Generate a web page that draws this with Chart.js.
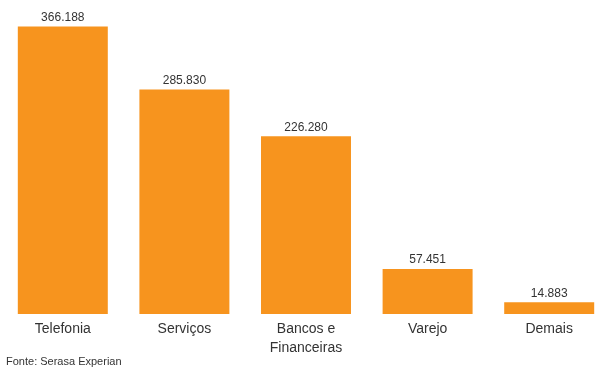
<!DOCTYPE html>
<html>
<head>
<meta charset="utf-8">
<script src="https://cdn.jsdelivr.net/npm/chart.js@4"></script>
<style>
html,body{margin:0;padding:0;background:#fff;}
#wrap{width:612px;height:371px;position:relative;}
</style>
</head>
<body>
<div id="wrap"><canvas id="c" width="612" height="371"></canvas></div>
<script>
const categories = ["Telefonia", "Serviços", ["Bancos e", "Financeiras"], "Varejo", "Demais"];
const values = [366188, 285830, 226280, 57451, 14883];
const sourceText = "Fonte: Serasa Experian";

function fmt(v){
  return String(Math.round(v)).replace(/\B(?=(\d{3})+(?!\d))/g, ".");
}

const valueLabels = {
  id: 'valueLabels',
  afterDatasetsDraw(chart){
    const ctx = chart.ctx;
    const meta = chart.getDatasetMeta(0);
    ctx.save();
    ctx.font = '12px "Liberation Sans", Arial, sans-serif';
    ctx.fillStyle = '#333333';
    ctx.textAlign = 'center';
    ctx.textBaseline = 'bottom';
    meta.data.forEach((bar, i) => {
      ctx.fillText(fmt(values[i]), bar.x, bar.y - 3);
    });
    ctx.restore();
  }
};

const sourcePlugin = {
  id: 'sourcePlugin',
  afterDraw(chart){
    const ctx = chart.ctx;
    ctx.save();
    ctx.font = '11px "Liberation Sans", Arial, sans-serif';
    ctx.fillStyle = '#333333';
    ctx.textAlign = 'left';
    ctx.textBaseline = 'middle';
    ctx.fillText(sourceText, 6, 362);
    ctx.restore();
  }
};

new Chart(document.getElementById('c'), {
  type: 'bar',
  data: {
    labels: categories,
    datasets: [{
      data: values,
      backgroundColor: '#F7941E',
      borderWidth: 0,
      barPercentage: 0.74,
      categoryPercentage: 1.0
    }]
  },
  options: {
    responsive: false,
    animation: false,
    events: [],
    layout: { padding: { left: 2, right: 2, top: 0, bottom: 0 } },
    plugins: { legend: { display: false }, tooltip: { enabled: false }, title: { display: false } },
    scales: {
      y: { display: false, min: 0, max: 400000 },
      x: {
        grid: { display: false, drawTicks: false },
        border: { display: false },
        ticks: {
          padding: 6,
          color: '#333333',
          font: { family: '"Liberation Sans", Arial, sans-serif', size: 14, lineHeight: 1.36 },
          maxRotation: 0,
          autoSkip: false
        },
        afterFit(scale){ scale.height = 57; }
      }
    }
  },
  plugins: [valueLabels, sourcePlugin]
});
</script>
</body>
</html>
